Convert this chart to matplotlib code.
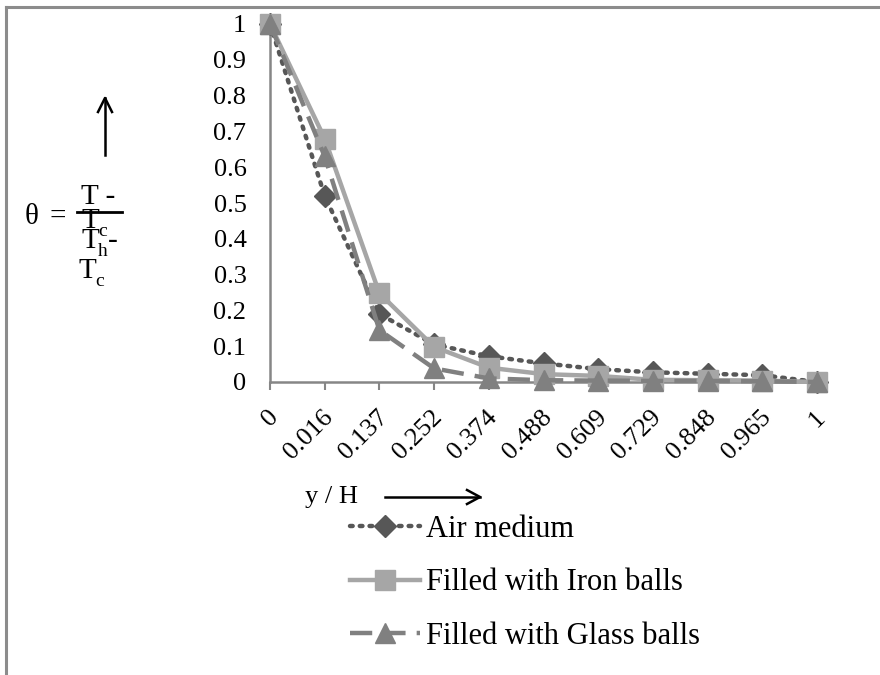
import matplotlib
matplotlib.use("Agg")
import matplotlib.pyplot as plt
from matplotlib.lines import Line2D
import matplotlib.transforms as mtransforms

plt.rcParams['font.family'] = 'Liberation Serif'

categories = ["0", "0.016", "0.137", "0.252", "0.374", "0.488",
              "0.609", "0.729", "0.848", "0.965", "1"]
air = [1.0, 0.52, 0.19, 0.105, 0.072, 0.052, 0.036, 0.027, 0.023, 0.019, 0.0]
iron = [1.0, 0.68, 0.248, 0.098, 0.04, 0.022, 0.017, 0.006, 0.005, 0.004, 0.0]
glass = [1.0, 0.63, 0.145, 0.038, 0.01, 0.005, 0.004, 0.003, 0.003, 0.002, 0.0]
yticks = [0, 0.1, 0.2, 0.3, 0.4, 0.5, 0.6, 0.7, 0.8, 0.9, 1]
ylabels = ["0", "0.1", "0.2", "0.3", "0.4", "0.5", "0.6", "0.7", "0.8", "0.9", "1"]

W, H = 880, 675
fig = plt.figure(figsize=(8.8, 6.75), dpi=100)
ax = fig.add_axes([270 / W, (H - 382) / H, (817 - 270) / W, (382 - 24) / H])

x = list(range(len(categories)))
fs = 19

ax.plot(x, air, linestyle=(0, (0.6, 1.6)), dash_capstyle='round', color='#575757',
        lw=3.2, marker='D', ms=11, mfc='#575757', mec='#575757',
        label='Air medium', clip_on=False, zorder=3)
ax.plot(x, iron, linestyle='-', color='#a6a6a6', lw=3.2, marker='s', ms=14,
        mfc='#a6a6a6', mec='#a6a6a6', label='Filled with Iron balls',
        clip_on=False, zorder=4)
ax.plot(x, glass, linestyle=(0, (5, 2.5)), color='#808080', lw=3.2, marker='^',
        ms=14, mfc='#808080', mec='#808080', label='Filled with Glass balls',
        clip_on=False, zorder=5)

ax.set_xlim(0, len(categories) - 1)
ax.set_ylim(0, 1)
ax.set_yticks(yticks)
ax.set_yticklabels(ylabels, fontsize=fs, fontfamily='Liberation Serif')
ax.tick_params(axis='y', length=0, pad=17)
ax.set_xticks(x)
ax.set_xticklabels(categories, fontsize=fs, fontfamily='Liberation Serif', rotation=45,
                   ha='right', va='center', rotation_mode='anchor')
ax.tick_params(axis='x', length=6, width=1.5, color='#868686', pad=17)
offset = mtransforms.ScaledTranslation(5 / 100, 0, fig.dpi_scale_trans)
for lab in ax.get_xticklabels():
    lab.set_transform(lab.get_transform() + offset)

for s in ['top', 'right']:
    ax.spines[s].set_visible(False)
for s in ['left', 'bottom']:
    ax.spines[s].set_color('#868686')
    ax.spines[s].set_linewidth(1.8)

# outer border (top and left only)
fig.add_artist(Line2D([6 / W, 1], [1 - 7 / H, 1 - 7 / H], color='#8c8c8c', lw=2.2))
fig.add_artist(Line2D([6 / W, 6 / W], [0, 1 - 7 / H], color='#8c8c8c', lw=2.2))

def px(xp, yp):
    return xp / W, 1 - yp / H

# theta formula, laid out as in the reference
ff = 21
fig.text(*px(25, 217), "θ", fontsize=ff, va='center', ha='left')
fig.text(*px(49, 217), "=", fontsize=ff, va='center', ha='left')
fig.text(*px(98, 197), "T -", fontsize=ff, va='center', ha='center')
fig.add_artist(Line2D([77 / W, 122 / W], [1 - 212 / H, 1 - 212 / H], color='black', lw=2))
fig.text(*px(90, 221), "T", fontsize=ff, va='center', ha='center')
fig.text(*px(103, 231), "c", fontsize=14, va='center', ha='center')
fig.text(*px(90, 241), "T", fontsize=ff, va='center', ha='center')
fig.text(*px(103, 252), "h", fontsize=14, va='center', ha='center')
fig.text(*px(113, 241), "-", fontsize=ff, va='center', ha='center')
fig.text(*px(87, 271), "T", fontsize=ff, va='center', ha='center')
fig.text(*px(100, 282), "c", fontsize=14, va='center', ha='center')

fig.add_artist(Line2D([105 / W, 105 / W], [1 - 155 / H, 1 - 98 / H], color='black', lw=1.8))
fig.add_artist(Line2D([98 / W, 105 / W, 112 / W], [1 - 112 / H, 1 - 98 / H, 1 - 112 / H],
                      color='black', lw=1.8))

# x axis caption
fig.text(*px(305, 497), "y / H", fontsize=fs, va='center', ha='left')
fig.add_artist(Line2D([385 / W, 480 / W], [1 - 497 / H, 1 - 497 / H], color='black', lw=1.8))
fig.add_artist(Line2D([467 / W, 480 / W, 467 / W], [1 - 490 / H, 1 - 497 / H, 1 - 504 / H],
                      color='black', lw=1.8))

fig.legend(loc='upper left', bbox_to_anchor=(350 / W, 1 - 515 / H), frameon=False,
           prop={'family': 'Liberation Serif', 'size': 22}, handlelength=2.3,
           handletextpad=0.2, labelspacing=0.8, borderaxespad=0, borderpad=0)

fig.savefig("out.png", dpi=100)
